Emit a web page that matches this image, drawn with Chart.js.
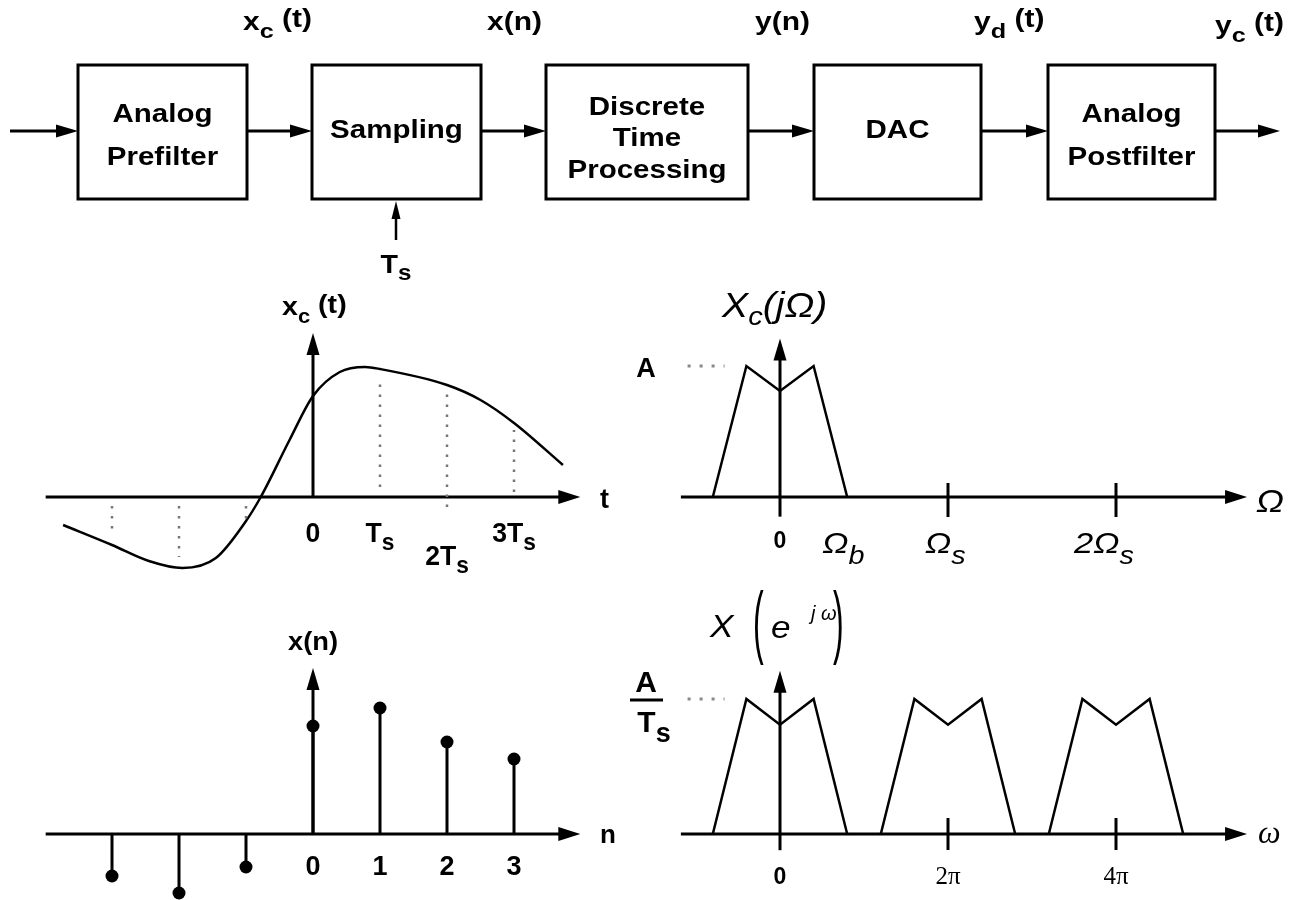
<!DOCTYPE html>
<html>
<head>
<meta charset="utf-8">
<title>Sampling chain</title>
<script src="https://cdn.jsdelivr.net/npm/chart.js@4.4.1/dist/chart.umd.min.js"></script>
<style>
  body { margin: 0; background: #fff; }
  #page { position: relative; width: 1289px; height: 900px; overflow: hidden; background: #fff; }
  #page canvas { position: absolute; }
</style>
</head>
<body>
<div id="page">
  <canvas id="blocks" width="1289" height="285" style="left:0;top:0"></canvas>
  <canvas id="timeChart" width="640" height="295" style="left:0;top:285px"></canvas>
  <canvas id="specChart" width="689" height="295" style="left:600px;top:285px"></canvas>
  <canvas id="stemChart" width="640" height="320" style="left:0;top:580px"></canvas>
  <canvas id="dtftChart" width="689" height="320" style="left:600px;top:580px"></canvas>
</div>
<script>
// ---- data ----
const blockNames = [['Analog', 'Prefilter'], ['Sampling'], ['Discrete', 'Time', 'Processing'], ['DAC'], ['Analog', 'Postfilter']];
const signalMain = ['x', 'x(n)', 'y(n)', 'y', 'y'];
const signalSub = ['c', '', '', 'd', 'c'];
const signalTail = [' (t)', '', '', ' (t)', ' (t)'];

// x_c(t), t in units of Ts
const curveT = [-3.73, -3.0, -2.45, -1.95, -1.45, -1.0, -0.78, -0.35, 0, 0.4, 0.78, 1, 2, 2.5, 3, 3.73];
const curveV = [-0.28, -0.48, -0.64, -0.71, -0.61, -0.24, 0, 0.57, 1.01, 1.25, 1.30, 1.28, 1.12, 0.97, 0.74, 0.32];
// dotted sample guides
const guideT = [-3, -2, -1, 1, 2, 3];
const guideFrom = [-0.09, -0.09, -0.09, 0.10, -0.10, 0.05];
const guideTo = [-0.35, -0.60, -0.23, 1.18, 1.09, 0.67];
const timeTickVals = [0, 1, 2, 3];
const timeTickMain = ['0', 'T', '2T', '3T'];
const timeTickSub = ['', 's', 's', 's'];

// x(n)
const sampleN = [-3, -2, -1, 0, 1, 2, 3];
const sampleX = [-0.42, -0.59, -0.33, 1.08, 1.26, 0.92, 0.75];
const stemTickVals = [0, 1, 2, 3];

// spectrum shape, frequency in units of Ωs (or 2π), height in units of A (or A/Ts)
const bandW = [-0.40, -0.20, 0, 0.20, 0.40];
const bandH = [0, 1, 0.81, 1, 0];
const specTickMarks = [1, 2];
const specTickVals = [0, 0.4, 1, 2];
const specTickMain = ['0', 'Ω', 'Ω', '2Ω'];
const specTickSub = ['', 'b', 's', 's'];
const dtftCenters = [0, 1, 2];
const dtftTickLabels = ['0', '2π', '4π'];
const levelGuide = [-0.55, -0.33];

// ---- helpers ----
const SANS = '"Liberation Sans", Arial, sans-serif';
const SERIF = '"Liberation Serif", "Times New Roman", serif';

function richText(ctx, parts, x, y, align, sx) {
  sx = sx || 1;
  let w = 0;
  parts.forEach(p => { ctx.font = p.f; w += ctx.measureText(p.t).width; });
  const left = align === 'center' ? x - w * sx / 2 : x;
  ctx.save();
  ctx.translate(left, y);
  ctx.scale(sx, 1);
  ctx.fillStyle = '#000';
  ctx.textAlign = 'left';
  ctx.textBaseline = 'alphabetic';
  let px = 0;
  parts.forEach(p => {
    ctx.font = p.f;
    ctx.fillText(p.t, px, p.dy || 0);
    px += ctx.measureText(p.t).width;
  });
  ctx.restore();
}

function arrow(ctx, x1, y1, x2, y2, len, half, lw) {
  const a = Math.atan2(y2 - y1, x2 - x1);
  ctx.lineWidth = lw;
  ctx.beginPath();
  ctx.moveTo(x1, y1);
  ctx.lineTo(x2 - Math.cos(a) * len * 0.7, y2 - Math.sin(a) * len * 0.7);
  ctx.stroke();
  ctx.save();
  ctx.translate(x2, y2);
  ctx.rotate(a);
  ctx.beginPath();
  ctx.moveTo(0, 0);
  ctx.lineTo(-len, -half);
  ctx.lineTo(-len, half);
  ctx.closePath();
  ctx.fill();
  ctx.restore();
}

function placeScales(frame, xOrigin, xUnit, yOrigin, yUnit) {
  return {
    x: { type: 'linear', display: false, min: (frame.left - xOrigin) / xUnit, max: (frame.left + frame.width - xOrigin) / xUnit },
    y: { type: 'linear', display: false, min: (yOrigin - frame.top - frame.height) / yUnit, max: (yOrigin - frame.top) / yUnit }
  };
}

function axesPlugin(cfg) {
  return {
    id: 'axes',
    beforeDatasetsDraw(chart) {
      const { ctx, scales: { x, y } } = chart;
      const ox = x.getPixelForValue(0), oy = y.getPixelForValue(0);
      ctx.save();
      ctx.strokeStyle = '#000';
      ctx.fillStyle = '#000';
      arrow(ctx, x.getPixelForValue(cfg.xFrom), oy, x.getPixelForValue(cfg.xTo), oy, 22, 7, 3);
      arrow(ctx, ox, y.getPixelForValue(cfg.yFrom), ox, y.getPixelForValue(cfg.yTo), 22, 6.5, 3);
      (cfg.ticks || []).forEach(v => {
        const px = x.getPixelForValue(v);
        ctx.lineWidth = 3;
        ctx.beginPath();
        ctx.moveTo(px, oy - cfg.tickUp);
        ctx.lineTo(px, oy + cfg.tickDown);
        ctx.stroke();
      });
      ctx.restore();
    },
    afterDraw(chart) {
      const { ctx, scales: { x, y } } = chart;
      ctx.save();
      cfg.labels(ctx, v => x.getPixelForValue(v), x.getPixelForValue(0), y.getPixelForValue(0));
      ctx.restore();
    }
  };
}

function baseOptions(scales) {
  return {
    responsive: false,
    animation: false,
    events: [],
    layout: { padding: 0, autoPadding: false },
    plugins: { legend: { display: false }, tooltip: { enabled: false } },
    scales: scales
  };
}

function segments(xs, from, to) {
  const out = [];
  xs.forEach((v, i) => { out.push({ x: v, y: from[i] }, { x: v, y: to[i] }, { x: v, y: null }); });
  return out;
}

function bands(centers) {
  const out = [];
  centers.forEach(c => {
    bandW.forEach((w, i) => out.push({ x: c + w, y: bandH[i] }));
    out.push({ x: c, y: null });
  });
  return out;
}

const lineStyle = { showLine: true, borderColor: '#000', pointRadius: 0, spanGaps: false, tension: 0 };
const dotStyle = { showLine: true, borderColor: '#777', borderDash: [2.5, 7.5], borderWidth: 2.5, pointRadius: 0, spanGaps: false };

// ---- block diagram ----
(function drawBlocks() {
  const ctx = document.getElementById('blocks').getContext('2d');
  const boxX = [[78, 247], [312, 481], [546, 748], [814, 981], [1048, 1215]];
  const top = 65, bottom = 199, mid = 131;
  const lineBase = { 1: [138], 2: [122, 165], 3: [115, 146, 178] };
  const labelLeft = [243, 487, 755, 974, 1215];
  const labelBase = [30, 30, 30, 30, 34];
  ctx.strokeStyle = '#000';
  ctx.fillStyle = '#000';
  ctx.lineWidth = 3;
  boxX.forEach(([l, r], i) => {
    ctx.strokeRect(l, top, r - l, bottom - top);
    const names = blockNames[i];
    names.forEach((t, k) => richText(ctx, [{ t: t, f: 'bold 25px ' + SANS }], (l + r) / 2, lineBase[names.length][k], 'center', 1.18));
  });
  const arrowEnds = [[10, 78], [247, 312], [481, 546], [748, 814], [981, 1048], [1215, 1280]];
  arrowEnds.forEach(([a, b]) => arrow(ctx, a, mid, b, mid, 22, 6.5, 3));
  arrow(ctx, 396, 240, 396, 201, 18, 4.5, 2.5);
  richText(ctx, [{ t: 'T', f: 'bold 26px ' + SANS }, { t: 's', f: 'bold 22px ' + SANS, dy: 7 }], 396, 273, 'center', 1.1);
  signalMain.forEach((m, i) => {
    const parts = [{ t: m, f: 'bold 25px ' + SANS }];
    if (signalSub[i]) parts.push({ t: signalSub[i], f: 'bold 21px ' + SANS, dy: 8 });
    if (signalTail[i]) parts.push({ t: signalTail[i], f: 'bold 25px ' + SANS, dy: -3 });
    richText(ctx, parts, labelLeft[i], labelBase[i], 'left', 1.2);
  });
})();

// ---- x_c(t) ----
new Chart(document.getElementById('timeChart'), {
  type: 'scatter',
  data: {
    datasets: [
      Object.assign({}, dotStyle, { data: segments(guideT, guideFrom, guideTo) }),
      Object.assign({}, lineStyle, { data: curveT.map((t, i) => ({ x: t, y: curveV[i] })), borderWidth: 2.5, cubicInterpolationMode: 'monotone' })
    ]
  },
  options: baseOptions(placeScales({ left: 0, top: 285, width: 640, height: 295 }, 313, 67, 497, 100)),
  plugins: [axesPlugin({
    xFrom: -3.99, xTo: 3.99, yFrom: 0, yTo: 1.64,
    labels(ctx, sx, ox, oy) {
      const B = 'bold 26px ' + SANS, S = 'bold 24px ' + SANS;
      richText(ctx, [{ t: 'x', f: B }, { t: 'c', f: 'bold 20px ' + SANS, dy: 8 }, { t: ' (t)', f: B, dy: -2 }], ox - 31, oy - 182, 'left', 1.1);
      richText(ctx, [{ t: 't', f: 'bold 27px ' + SANS }], ox + 287, oy + 11, 'left', 1);
      timeTickVals.forEach((v, i) => {
        const parts = [{ t: timeTickMain[i], f: 'bold 28px ' + SANS }];
        if (timeTickSub[i]) parts.push({ t: timeTickSub[i], f: S, dy: 8 });
        richText(ctx, parts, sx(v), oy + (v === 2 ? 68 : 45), 'center', 0.95);
      });
    }
  })]
});

// ---- X_c(jΩ) ----
new Chart(document.getElementById('specChart'), {
  type: 'scatter',
  data: {
    datasets: [
      Object.assign({}, dotStyle, { data: levelGuide.map(v => ({ x: v, y: 1 })), borderColor: '#888', borderWidth: 3, borderDash: [3, 9] }),
      Object.assign({}, lineStyle, { data: bands([0]), borderWidth: 2.5 })
    ]
  },
  options: baseOptions(placeScales({ left: 600, top: 285, width: 689, height: 295 }, 780, 168, 497, 131)),
  plugins: [axesPlugin({
    xFrom: -0.59, xTo: 2.78, yFrom: -0.15, yTo: 1.21, ticks: specTickMarks, tickUp: 14, tickDown: 20,
    labels(ctx, sx, ox, oy) {
      const I = 'italic 35px ' + SANS;
      richText(ctx, [{ t: 'X', f: I }, { t: 'c', f: 'italic 26px ' + SANS, dy: 8 }, { t: '(jΩ)', f: I }], ox - 58, oy - 180, 'left', 1.12);
      richText(ctx, [{ t: 'A', f: 'bold 27px ' + SANS }], ox - 134, oy - 120, 'center', 1);
      richText(ctx, [{ t: 'Ω', f: 'italic 32px ' + SANS }], ox + 476, oy + 15, 'left', 1.15);
      const offs = [0, -25, -23, -42];
      specTickVals.forEach((v, i) => {
        if (i === 0) {
          richText(ctx, [{ t: '0', f: 'bold 23px ' + SANS }], sx(v), oy + 51, 'center', 1);
          return;
        }
        richText(ctx, [{ t: specTickMain[i], f: 'italic 30px ' + SANS }, { t: specTickSub[i], f: 'italic 25px ' + SANS, dy: 11 }], sx(v) + offs[i], oy + 56, 'left', 1.15);
      });
    }
  })]
});

// ---- x(n) ----
new Chart(document.getElementById('stemChart'), {
  type: 'scatter',
  data: {
    datasets: [
      Object.assign({}, lineStyle, { data: segments(sampleN, sampleN.map(() => 0), sampleX), borderWidth: 3 }),
      { data: sampleN.map((n, i) => ({ x: n, y: sampleX[i] })), showLine: false, pointRadius: 6.5, pointBackgroundColor: '#000', pointBorderWidth: 0 }
    ]
  },
  options: baseOptions(placeScales({ left: 0, top: 580, width: 640, height: 320 }, 313, 67, 834, 100)),
  plugins: [axesPlugin({
    xFrom: -3.99, xTo: 3.99, yFrom: 0, yTo: 1.66,
    labels(ctx, sx, ox, oy) {
      richText(ctx, [{ t: 'x(n)', f: 'bold 26px ' + SANS }], ox, oy - 184, 'center', 1.05);
      richText(ctx, [{ t: 'n', f: 'bold 26px ' + SANS }], ox + 287, oy + 9, 'left', 1);
      stemTickVals.forEach(v => richText(ctx, [{ t: String(v), f: 'bold 27px ' + SANS }], sx(v), oy + 41, 'center', 1));
    }
  })]
});

// ---- X(e^jω) ----
new Chart(document.getElementById('dtftChart'), {
  type: 'scatter',
  data: {
    datasets: [
      Object.assign({}, dotStyle, { data: levelGuide.map(v => ({ x: v, y: 1 })), borderColor: '#888', borderWidth: 3, borderDash: [3, 9] }),
      Object.assign({}, lineStyle, { data: bands(dtftCenters), borderWidth: 2.5 })
    ]
  },
  options: baseOptions(placeScales({ left: 600, top: 580, width: 689, height: 320 }, 780, 168, 834, 135)),
  plugins: [axesPlugin({
    xFrom: -0.59, xTo: 2.78, yFrom: -0.12, yTo: 1.21, ticks: dtftCenters.slice(1), tickUp: 16, tickDown: 16,
    labels(ctx, sx, ox, oy) {
      const I = 'italic 32px ' + SANS;
      richText(ctx, [{ t: 'X', f: I }], ox - 70, oy - 197, 'left', 1.1);
      richText(ctx, [{ t: '(', f: '80px ' + SANS }], ox - 27, oy - 186, 'left', 0.4);
      richText(ctx, [{ t: 'e', f: I }], ox - 9, oy - 196, 'left', 1.1);
      richText(ctx, [{ t: 'j ω', f: 'italic 20px ' + SANS }], ox + 31, oy - 214, 'left', 1);
      richText(ctx, [{ t: ')', f: '80px ' + SANS }], ox + 53, oy - 186, 'left', 0.4);
      // A / Ts
      richText(ctx, [{ t: 'A', f: 'bold 30px ' + SANS }], ox - 134, oy - 142, 'center', 1);
      ctx.fillStyle = '#000';
      ctx.fillRect(ox - 150, oy - 135.5, 33, 3);
      richText(ctx, [{ t: 'T', f: 'bold 30px ' + SANS }, { t: 's', f: 'bold 27px ' + SANS, dy: 10 }], ox - 126, oy - 102, 'center', 1);
      richText(ctx, [{ t: 'ω', f: 'italic 32px ' + SERIF }], ox + 478, oy + 9, 'left', 1);
      dtftCenters.forEach((c, i) => {
        const f = i === 0 ? 'bold 23px ' + SANS : '25px ' + SERIF;
        richText(ctx, [{ t: dtftTickLabels[i], f: f }], sx(c), oy + 50, 'center', 1);
      });
    }
  })]
});
</script>
</body>
</html>
